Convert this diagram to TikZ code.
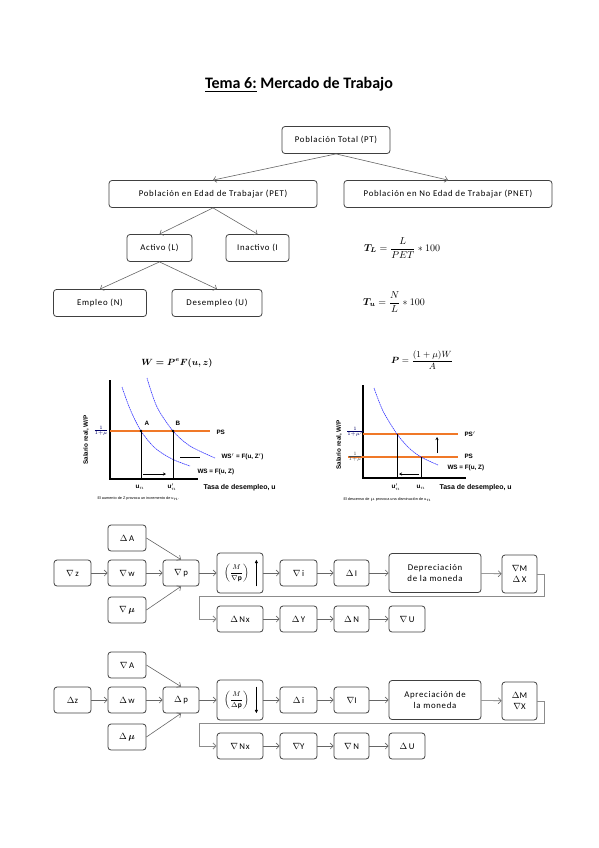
\documentclass[tikz,border=0pt]{standalone}
\usepackage{amsmath,amssymb}
\usepackage{fontspec}
\setmainfont{Carlito}
\newfontfamily\grafont{Liberation Sans}
\newfontfamily\cajafont[LetterSpace=8]{Carlito}
\usetikzlibrary{arrows.meta}
\definecolor{naranja}{RGB}{240,120,40}
\tikzset{
  arbol/.style={draw=black!75,line width=0.8pt,rounded corners=3pt,minimum height=27pt,inner sep=2pt,font=\cajafont\fontsize{8.8}{10}\selectfont},
  caja/.style={draw=black!75,line width=0.8pt,rounded corners=3pt,minimum height=26pt,minimum width=36pt,inner sep=1pt,align=center,font=\cajafont\fontsize{8.8}{11.5}\selectfont},
  flecha/.style={draw=black!60,line width=0.6pt,-{Straight Barb[length=3pt,width=6pt]}},
  retorno/.style={draw=black!45,line width=0.9pt,-{Straight Barb[length=3pt,width=6pt]}},
  eje/.style={line width=1.2pt},
  ws/.style={blue!80,dash pattern=on 1.5pt off 0.6pt,line width=0.6pt},
  psl/.style={naranja,line width=1.3pt},
  etq/.style={font=\grafont\bfseries\fontsize{6.3}{7}\selectfont},
  flechita/.style={line width=0.6pt,-{Stealth[length=3pt,width=3pt]}},
  gruesa/.style={line width=1.1pt,-{Latex[length=3.5pt,width=3.5pt]}},
}
\begin{document}
\begin{tikzpicture}[x=1pt,y=-1pt]
\useasboundingbox (0,0) rectangle (599,848);
\node[font=\bfseries\fontsize{16}{18}\selectfont] (titulo) at (299,85) {\underline{Tema 6:} Mercado de Trabajo};
% arbol de poblacion
\node[arbol,minimum width=108pt] (pt) at (336,140) {Población Total (PT)};
\node[arbol,minimum width=208pt] (pet) at (213,194) {Población en Edad de Trabajar (PET)};
\node[arbol,minimum width=208pt] (pnet) at (448,194) {Población en No Edad de Trabajar (PNET)};
\node[arbol,minimum width=65pt] (act) at (159.5,248) {Activo (L)};
\node[arbol,minimum width=63pt] (inact) at (257.5,248) {Inactivo (I};
\node[arbol,minimum width=93pt] (emp) at (100,303) {Empleo (N)};
\node[arbol,minimum width=90pt] (desemp) at (217,303) {Desempleo (U)};
\draw[flecha] (pt.south) -- (pet.north);
\draw[flecha] (pt.south) -- (pnet.north);
\draw[flecha] (pet.south) -- (act.north);
\draw[flecha] (pet.south) -- (inact.north);
\draw[flecha] (act.south) -- (emp.north);
\draw[flecha] (act.south) -- (desemp.north);
\node[font=\fontsize{10}{12}\selectfont] (tl) at (402,248) {$\boldsymbol{T_L} = \dfrac{L}{PET} * 100$};
\node[font=\fontsize{10}{12}\selectfont] (tu) at (394,302) {$\boldsymbol{T_u} = \dfrac{N}{L} * 100$};
% grafico 1: WS
\node[font=\fontsize{9}{11}\selectfont] (g1tit) at (177,363) {$\boldsymbol{W = P^e F(u, z)}$};
\draw[eje] (110,380) -- (110,479) -- (198,479);
\draw[psl] (110,431) -- (210,431);
\draw[ws] plot[smooth] coordinates {(122,387) (130,409) (141,431) (155,448) (172,459) (190,466)};
\draw[ws] plot[smooth] coordinates {(147,378) (157,407) (173,431) (190,446) (215,458)};
\draw[line width=0.8pt] (141,431) -- (141,479);
\draw[line width=0.8pt] (173,431) -- (173,479);
\fill (141,431) circle (1.3pt) (173,431) circle (1.3pt);
\node[etq] (ga) at (147,423) {A};
\node[etq] (gb) at (178,423) {B};
\node[etq,anchor=west] (ps1) at (213,432) {PS};
\node[etq,anchor=west] (wsz) at (218,457) {WS$'$ = F(u, Z$'$)};
\node[etq,anchor=west] (ws1) at (194,472) {WS = F(u, Z)};
\draw[line width=0.8pt] (180,457) -- (200,457);
\draw[flechita] (143,474) -- (166,474);
\node[font=\grafont\fontsize{4.5}{5}\selectfont,blue!40!black] (fr1) at (101,431) {$\frac{1}{1+\mu}$};
\node[etq] (ua) at (140,487) {u$_n$};
\node[etq] (ub) at (172,487) {u$_n'$};
\node[etq,anchor=west,font=\grafont\bfseries\fontsize{7}{8}\selectfont] (tasa1) at (200,488) {Tasa de desempleo, u};
\node[etq,rotate=90] (sal1) at (86,440) {Salario real, W/P};
\node[anchor=west,font=\grafont\fontsize{3.8}{4}\selectfont] (cap1) at (94,499) {El aumento de Z provoca un incremento de u$_n$.};
% grafico 2: PS
\node[font=\fontsize{9}{11}\selectfont] (g2tit) at (422,360) {$\boldsymbol{P} = \dfrac{(1+\mu)W}{A}$};
\draw[eje] (363,385) -- (363,478) -- (466,478);
\draw[psl] (363,434) -- (458,434);
\draw[psl] (348,457) -- (458,457);
\draw[ws] plot[smooth] coordinates {(374,388) (383,411) (397,434) (409,448) (421,457) (438,465)};
\draw[line width=0.8pt] (397,434) -- (397,478);
\draw[line width=0.8pt] (421,457) -- (421,478);
\draw[flechita] (437,453) -- (437,437);
\draw[flechita] (419,474) -- (399,474);
\node[etq,anchor=west] (ps2b) at (461,434) {PS$'$};
\node[etq,anchor=west] (ps2) at (461,456) {PS};
\node[etq,anchor=west] (ws2) at (444,468) {WS = F(u, Z)};
\node[font=\grafont\fontsize{4.5}{5}\selectfont,blue!40!black] (fr2) at (355,432) {$\frac{1}{1+\mu'}$};
\node[font=\grafont\fontsize{4.5}{5}\selectfont,black!70] (fr3) at (355,457) {$\frac{1}{1+\mu}$};
\node[etq] (un2) at (396,487) {u$'_n$};
\node[etq] (un1) at (421,487) {u$_n$};
\node[etq,anchor=west,font=\grafont\bfseries\fontsize{7}{8}\selectfont] (tasa2) at (436,488) {Tasa de desempleo, u};
\node[etq,rotate=90] (sal2) at (339,445) {Salario real, W/P};
\node[anchor=west,font=\grafont\fontsize{3.8}{4}\selectfont] (cap2) at (340,500) {El descenso de $\mu$ provoca una disminución de u$_n$};
% cadena 1
\node[caja,minimum width=37pt] (z1) at (72.5,573) {$\nabla$\,z};
\node[caja,minimum width=38pt] (a1) at (127,538) {$\Delta$\,A};
\node[caja,minimum width=38pt] (w1) at (127,573) {$\nabla$\,w};
\node[caja,minimum width=38pt] (mu1) at (127,610) {$\nabla$\,$\boldsymbol{\mu}$};
\node[caja] (p1) at (181,573) {$\nabla$\,p};
\node[caja,minimum width=46pt,minimum height=40pt,font=\fontsize{7.5}{9}\selectfont] (mp1) at (240,573) {$\left(\dfrac{M}{\nabla\mathbf{p}}\right)$\hspace{7pt}};
\draw[gruesa] ([xshift=-7pt,yshift=7pt]mp1.south east) -- ([xshift=-7pt,yshift=-7pt]mp1.north east);
\node[caja,minimum width=37pt] (i1) at (298.5,573) {$\nabla$\,i};
\node[caja,minimum width=35pt] (inv1) at (351.5,573) {$\Delta$\,I};
\node[caja,minimum width=92pt,minimum height=39pt] (dep1) at (435,573) {Depreciación\\de la moneda};
\node[caja,minimum width=35pt,minimum height=38pt] (mx1) at (519.5,574) {$\nabla$M\\$\Delta$\,X};
\node[caja,minimum width=46pt] (nx1) at (240,619) {$\Delta$\,Nx};
\node[caja,minimum width=37pt] (y1) at (298.5,619) {$\Delta$\,Y};
\node[caja,minimum width=35pt] (n1) at (351.5,619) {$\Delta$\,N};
\node[caja] (u1) at (407,619) {$\nabla$\,U};
\coordinate (esq1) at (544,596);
\coordinate (codo1) at (199,596);
\draw[flecha] (z1) -- (w1);
\draw[flecha] (w1) -- (p1);
\draw[flecha] (a1.east) -- (p1.north);
\draw[flecha] (mu1.east) -- (p1.south);
\draw[flecha] (p1) -- (mp1);
\draw[flecha] (mp1) -- (i1);
\draw[flecha] (i1) -- (inv1);
\draw[flecha] (inv1) -- (dep1);
\draw[flecha] (dep1) -- (mx1);
\draw[retorno] (mx1.east) -| (esq1) -- (codo1) |- (nx1.west);
\draw[flecha] (nx1) -- (y1);
\draw[flecha] (y1) -- (n1);
\draw[flecha] (n1) -- (u1);
% cadena 2
\begin{scope}[yshift=-127pt]
\node[caja,minimum width=37pt] (z2) at (72.5,573) {$\Delta$z};
\node[caja,minimum width=38pt] (a2) at (127,538) {$\nabla$\,A};
\node[caja,minimum width=38pt] (w2) at (127,573) {$\Delta$\,w};
\node[caja,minimum width=38pt] (mu2) at (127,610) {$\Delta$\,$\boldsymbol{\mu}$};
\node[caja] (p2) at (181,573) {$\Delta$\,p};
\node[caja,minimum width=46pt,minimum height=40pt,font=\fontsize{7.5}{9}\selectfont] (mp2) at (240,573) {$\left(\dfrac{M}{\Delta\mathbf{p}}\right)$\hspace{7pt}};
\draw[gruesa] ([xshift=-7pt,yshift=-7pt]mp2.north east) -- ([xshift=-7pt,yshift=7pt]mp2.south east);
\node[caja,minimum width=37pt] (i2) at (298.5,573) {$\Delta$\,i};
\node[caja,minimum width=35pt] (inv2) at (351.5,573) {$\nabla$I};
\node[caja,minimum width=92pt,minimum height=39pt] (dep2) at (435,573) {Apreciación de\\la moneda};
\node[caja,minimum width=35pt,minimum height=38pt] (mx2) at (519.5,574) {$\Delta$M\\$\nabla$X};
\node[caja,minimum width=46pt] (nx2) at (240,619) {$\nabla$\,Nx};
\node[caja,minimum width=37pt] (y2) at (298.5,619) {$\nabla$Y};
\node[caja,minimum width=35pt] (n2) at (351.5,619) {$\nabla$\,N};
\node[caja] (u2) at (407,619) {$\Delta$\,U};
\coordinate (esq2) at (544,596);
\coordinate (codo2) at (199,596);
\draw[flecha] (z2) -- (w2);
\draw[flecha] (w2) -- (p2);
\draw[flecha] (a2.east) -- (p2.north);
\draw[flecha] (mu2.east) -- (p2.south);
\draw[flecha] (p2) -- (mp2);
\draw[flecha] (mp2) -- (i2);
\draw[flecha] (i2) -- (inv2);
\draw[flecha] (inv2) -- (dep2);
\draw[flecha] (dep2) -- (mx2);
\draw[retorno] (mx2.east) -| (esq2) -- (codo2) |- (nx2.west);
\draw[flecha] (nx2) -- (y2);
\draw[flecha] (y2) -- (n2);
\draw[flecha] (n2) -- (u2);
\end{scope}
\end{tikzpicture}
\end{document}
